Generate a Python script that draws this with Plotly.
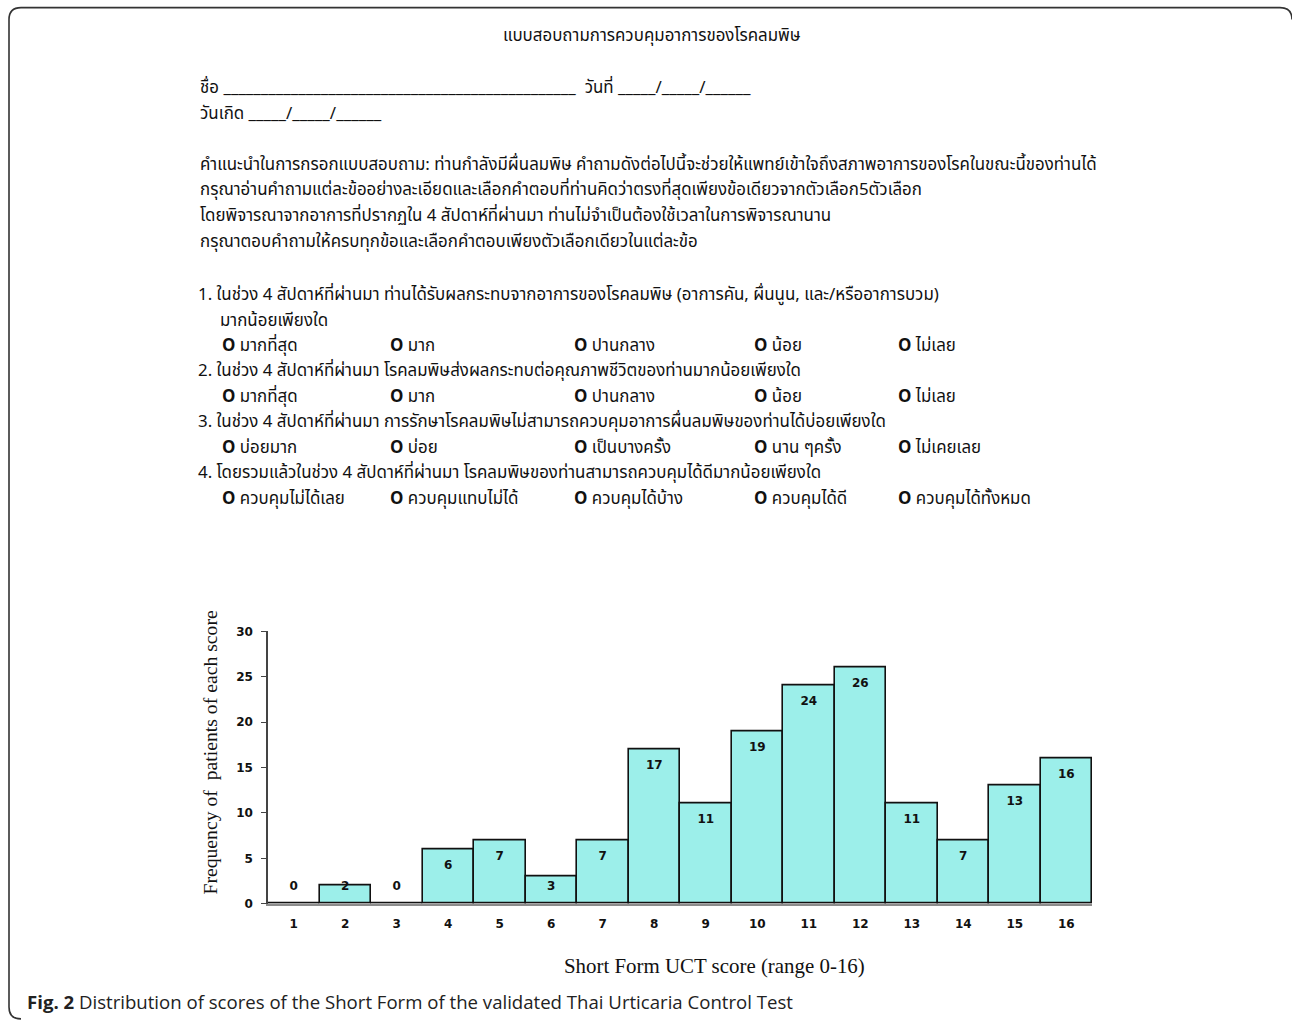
import plotly.graph_objects as go

W, H = 1292, 1021

# ---------------- data ----------------
scores = list(range(1, 17))
frequency = [0, 2, 0, 6, 7, 3, 7, 17, 11, 19, 24, 26, 11, 7, 13, 16]
y_ticks = [0, 5, 10, 15, 20, 25, 30]

form_title = "แบบสอบถามการควบคุมอาการของโรคลมพิษ"
name_line = "ชื่อ _______________________________________________  วันที่ _____/_____/______"
birth_line = "วันเกิด _____/_____/______"
instructions = [
    "คำแนะนำในการกรอกแบบสอบถาม: ท่านกำลังมีผื่นลมพิษ คำถามดังต่อไปนี้จะช่วยให้แพทย์เข้าใจถึงสภาพอาการของโรคในขณะนี้ของท่านได้",
    "กรุณาอ่านคำถามแต่ละข้ออย่างละเอียดและเลือกคำตอบที่ท่านคิดว่าตรงที่สุดเพียงข้อเดียวจากตัวเลือก5ตัวเลือก",
    "โดยพิจารณาจากอาการที่ปรากฏใน 4 สัปดาห์ที่ผ่านมา ท่านไม่จำเป็นต้องใช้เวลาในการพิจารณานาน",
    "กรุณาตอบคำถามให้ครบทุกข้อและเลือกคำตอบเพียงตัวเลือกเดียวในแต่ละข้อ",
]
questions = [
    ["1. ในช่วง 4 สัปดาห์ที่ผ่านมา ท่านได้รับผลกระทบจากอาการของโรคลมพิษ (อาการคัน, ผื่นนูน, และ/หรืออาการบวม)",
     "มากน้อยเพียงใด"],
    ["2. ในช่วง 4 สัปดาห์ที่ผ่านมา โรคลมพิษส่งผลกระทบต่อคุณภาพชีวิตของท่านมากน้อยเพียงใด"],
    ["3. ในช่วง 4 สัปดาห์ที่ผ่านมา การรักษาโรคลมพิษไม่สามารถควบคุมอาการผื่นลมพิษของท่านได้บ่อยเพียงใด"],
    ["4. โดยรวมแล้วในช่วง 4 สัปดาห์ที่ผ่านมา โรคลมพิษของท่านสามารถควบคุมได้ดีมากน้อยเพียงใด"],
]
options = [
    ["มากที่สุด", "มาก", "ปานกลาง", "น้อย", "ไม่เลย"],
    ["มากที่สุด", "มาก", "ปานกลาง", "น้อย", "ไม่เลย"],
    ["บ่อยมาก", "บ่อย", "เป็นบางครั้ง", "นาน ๆครั้ง", "ไม่เคยเลย"],
    ["ควบคุมไม่ได้เลย", "ควบคุมแทบไม่ได้", "ควบคุมได้บ้าง", "ควบคุมได้ดี", "ควบคุมได้ทั้งหมด"],
]
x_title = "Short Form UCT score (range 0-16)"
y_title = "Frequency of  patients of each score"
caption_bold = "Fig. 2"
caption_rest = " Distribution of scores of the Short Form of the validated Thai Urticaria Control Test"

# ---------------- helpers (pixel -> paper) ----------------
def px(x):
    return x / W

def py(y):
    # small vertical correction for the capture pipeline
    yy = (y - 7.4) / 0.985
    return 1 - yy / H

THAI = "Noto Sans Thai, Noto Sans Thai UI, Loma, Garuda, Tlwg Typo, DejaVu Sans, sans-serif"
SERIF = "Liberation Serif, Times New Roman, serif"
TICKF = "DejaVu Sans, Verdana, sans-serif"
TS = 16.9  # Thai text size
TDY = 2    # Thai text vertical nudge

fig = go.Figure()

fig.add_trace(go.Bar(
    x=scores, y=frequency,
    marker=dict(color="#9cefea", line=dict(color="#111111", width=1.6)),
    width=1.0, showlegend=False, hoverinfo="x+y",
))

label_y = [max(v - 1.8, 1.9) for v in frequency]
fig.add_trace(go.Scatter(
    x=scores, y=label_y, mode="text", text=[str(v) for v in frequency],
    textfont=dict(family=TICKF, size=12, color="#111111", weight="bold"),
    showlegend=False, hoverinfo="skip",
))

fig.update_layout(
    width=W, height=H,
    margin=dict(l=0, r=0, t=0, b=0),
    paper_bgcolor="white", plot_bgcolor="white",
    bargap=0,
    xaxis=dict(
        domain=[px(268), px(1092)], range=[0.5, 16.5],
        tickmode="array", tickvals=scores, ticktext=[str(s) for s in scores],
        showgrid=False, zeroline=False,
        showline=True, linecolor="#8c8c8c", linewidth=2,
        ticks="", ticklabelstandoff=8,
        tickfont=dict(family=TICKF, size=12, color="#111111", weight="bold"),
    ),
    yaxis=dict(
        domain=[py(903), py(631)], range=[0, 30],
        tickmode="array", tickvals=y_ticks,
        showgrid=False, zeroline=False,
        showline=True, linecolor="#444444", linewidth=1.5,
        ticks="outside", ticklen=5, tickcolor="#444444",
        ticklabelstandoff=6,
        tickfont=dict(family=TICKF, size=12, color="#111111", weight="bold"),
    ),
)

ann = []

def txt(x, y, s, size=TS, family=THAI, anchor="left", color="#111111", weight="normal"):
    ann.append(dict(x=px(x), y=py(y), xref="paper", yref="paper", text=s,
                    showarrow=False, xanchor=anchor, yanchor="middle",
                    font=dict(family=family, size=size, color=color, weight=weight)))

# questionnaire text
txt(652, 34 + TDY, form_title, anchor="center")
txt(198, 86 + TDY, name_line)
txt(198, 112 + TDY, birth_line)
for i, line in enumerate(instructions):
    txt(198, 163 + TDY + i * 25.6, line)

q_rows = [293, 369, 420, 471]
opt_x = [220, 388, 572, 752, 896]
for qi, qlines in enumerate(questions):
    y0 = q_rows[qi] + TDY
    for li, line in enumerate(qlines):
        txt(196 if li == 0 else 218, y0 + li * 25.5, line)
    oy = y0 + 25.5 * len(qlines)
    for oi, o in enumerate(options[qi]):
        txt(opt_x[oi], oy, "<b>O</b> " + o)

# axis titles
ann.append(dict(x=px(210), y=py(752), xref="paper", yref="paper", text=y_title,
                showarrow=False, textangle=-90, xanchor="center", yanchor="middle",
                font=dict(family=SERIF, size=19.7, color="#111111")))
txt(714, 965, x_title, size=20.9, family=SERIF, anchor="center")

# caption
txt(25, 1001, "<b>" + caption_bold + "</b>" + caption_rest, size=18.6,
    family="Open Sans, Noto Sans, sans-serif", color="#222222")

fig.update_layout(annotations=ann)

# frame (rounded border)
r = 12
path = (f"M {px(1292)},{py(8 + r)} Q {px(1292)},{py(8)} {px(1292 - r)},{py(8)} "
        f"L {px(9 + r)},{py(8)} Q {px(9)},{py(8)} {px(9)},{py(8 + r)} "
        f"L {px(9)},{py(1018 - r)} Q {px(9)},{py(1018)} {px(9 + r)},{py(1018)}")
fig.add_shape(type="path", path=path, xref="paper", yref="paper",
              line=dict(color="#333333", width=1.6))

post = (
    "document.documentElement.style.margin='0';"
    "document.documentElement.style.padding='0';"
    "document.documentElement.style.overflow='hidden';"
    "document.body.style.margin='0';"
    "document.body.style.padding='0';"
    "document.body.style.overflow='hidden';"
)
fig.write_html("out.html", post_script=post, config={"displayModeBar": False})
